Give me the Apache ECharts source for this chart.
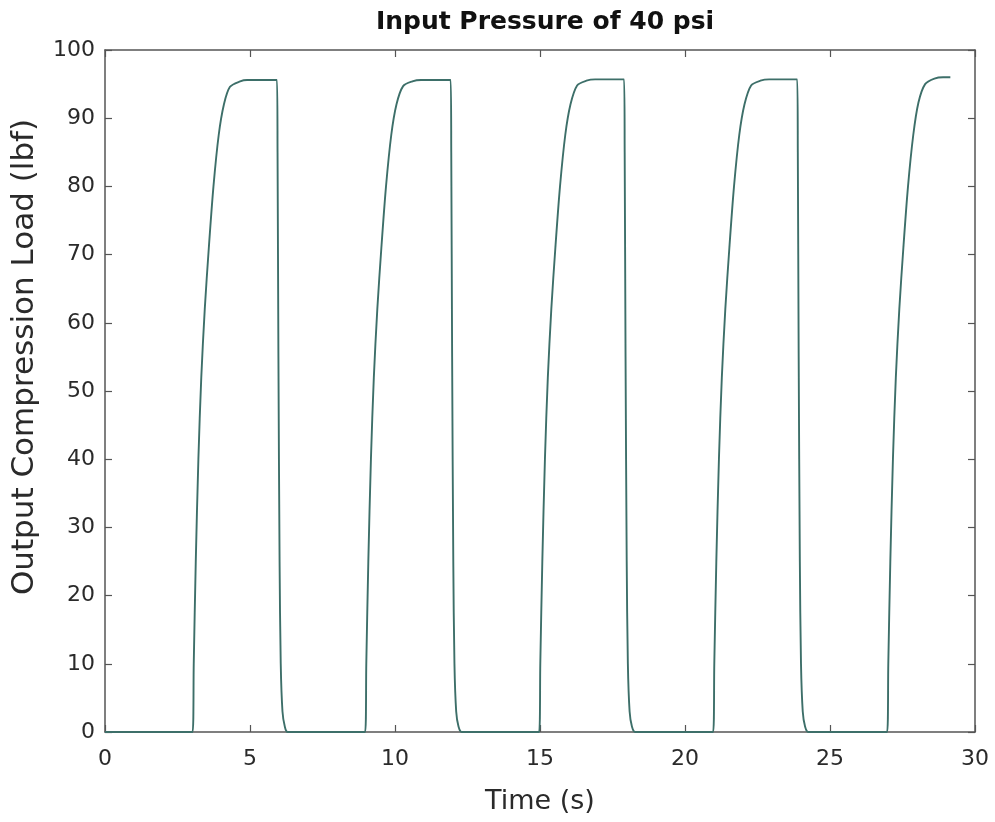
<!DOCTYPE html>
<html>
<head>
<meta charset="utf-8">
<title>Input Pressure of 40 psi</title>
<script src="https://cdn.jsdelivr.net/npm/echarts@6/dist/echarts.min.js"></script>
<style>
  html, body { margin: 0; padding: 0; background: #fff; }
  #main { width: 995px; height: 822px; }
</style>
</head>
<body>
<div id="main"></div>
<script>
const timeS = [
  0,
  // cycle 1
  3.02, 3.06, 3.13, 3.22, 3.32, 3.44, 3.58, 3.74, 3.92, 4.1, 4.31, 4.66, 4.9, 5.93,
  5.95, 5.98, 6.02, 6.06, 6.12, 6.2, 6.3,
  // cycle 2
  8.97, 9.01, 9.08, 9.17, 9.27, 9.39, 9.53, 9.69, 9.87, 10.05, 10.28, 10.6, 10.9, 11.92,
  11.94, 11.97, 12.01, 12.05, 12.11, 12.19, 12.3,
  // cycle 3
  14.97, 15.01, 15.08, 15.17, 15.27, 15.39, 15.53, 15.69, 15.87, 16.05, 16.28, 16.6, 16.9, 17.9,
  17.92, 17.95, 17.99, 18.03, 18.09, 18.17, 18.28,
  // cycle 4
  20.97, 21.01, 21.08, 21.17, 21.27, 21.39, 21.53, 21.69, 21.87, 22.05, 22.28, 22.6, 22.9, 23.87,
  23.89, 23.92, 23.96, 24.0, 24.06, 24.14, 24.25,
  // cycle 5
  26.97, 27.01, 27.08, 27.17, 27.27, 27.39, 27.53, 27.69, 27.87, 28.05, 28.28, 28.6, 28.9, 29.15
];
const loadLbf = [
  0,
  0, 10, 25, 40, 52, 62, 71, 80, 87.5, 92, 94.6, 95.4, 95.6, 95.6,
  85, 55, 25, 10, 3, 0.8, 0,
  0, 10, 25, 40, 52, 62, 71, 80, 87.5, 92, 94.7, 95.4, 95.6, 95.6,
  85, 55, 25, 10, 3, 0.8, 0,
  0, 10, 25, 40, 52, 62, 71, 80, 87.5, 92, 94.8, 95.5, 95.7, 95.7,
  85, 55, 25, 10, 3, 0.8, 0,
  0, 10, 25, 40, 52, 62, 71, 80, 87.5, 92, 94.8, 95.5, 95.7, 95.7,
  85, 55, 25, 10, 3, 0.8, 0,
  0, 10, 25, 40, 52, 62, 71, 80, 87.5, 92.3, 95, 95.8, 96, 96
];

const chart = echarts.init(document.getElementById('main'));

const axisColor = '#555';
const fontFam = 'DejaVu Sans, sans-serif';
const labelFont = { fontFamily: fontFam, fontSize: 22, color: '#2a2a2a' };

// mirrored axes give the closed box with inward ticks
const boxAxis = (extra) => Object.assign({
  type: 'value',
  axisLine: { show: true, onZero: false, lineStyle: { color: axisColor, width: 1.5 } },
  axisTick: { show: true, inside: true, length: 7, lineStyle: { color: axisColor, width: 1.2 } },
  splitLine: { show: false }
}, extra);

const option = {
  backgroundColor: '#fff',
  animation: false,
  title: {
    text: 'Input Pressure of 40 psi',
    left: 540, top: 5, textAlign: 'center',
    textStyle: { fontFamily: fontFam, fontSize: 25, fontWeight: 'bold', color: '#111' }
  },
  // y title sits a bit above the plot centre in the original
  graphic: [{
    type: 'text',
    x: 25, y: 357,
    rotation: Math.PI / 2,
    style: {
      text: 'Output Compression Load (lbf)',
      font: '31px DejaVu Sans, sans-serif',
      fill: '#2a2a2a',
      align: 'center',
      verticalAlign: 'middle'
    }
  }],
  grid: { left: 105, right: 20, top: 50, bottom: 90 },
  xAxis: [
    boxAxis({
      min: 0, max: 30, interval: 5, position: 'bottom',
      name: 'Time (s)', nameLocation: 'middle', nameGap: 56,
      nameTextStyle: { fontFamily: fontFam, fontSize: 27, color: '#2a2a2a' },
      axisLabel: Object.assign({ margin: 16 }, labelFont)
    }),
    boxAxis({ min: 0, max: 30, interval: 5, position: 'top', axisLabel: { show: false } })
  ],
  yAxis: [
    boxAxis({
      min: 0, max: 100, interval: 10, position: 'left',
      axisLabel: Object.assign({ margin: 10 }, labelFont)
    }),
    boxAxis({ min: 0, max: 100, interval: 10, position: 'right', axisLabel: { show: false } })
  ],
  series: [{
    type: 'line',
    data: timeS.map((t, i) => [t, loadLbf[i]]),
    showSymbol: false,
    smooth: 0.3,
    lineStyle: { color: '#3d6f69', width: 1.9 }
  }]
};

chart.setOption(option);
</script>
</body>
</html>
